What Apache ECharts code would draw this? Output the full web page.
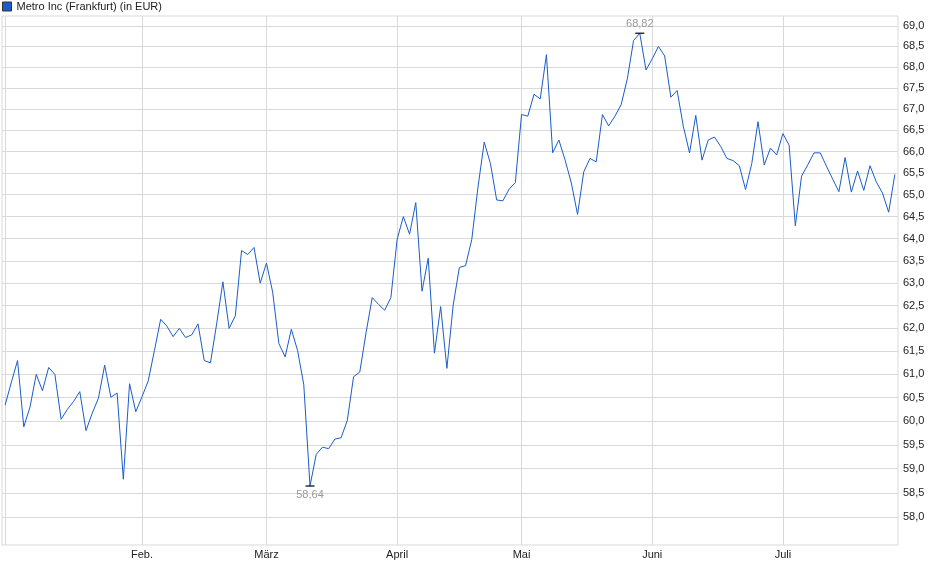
<!DOCTYPE html>
<html>
<head>
<meta charset="utf-8">
<script src="https://cdn.jsdelivr.net/npm/echarts@6/dist/echarts.min.js"></script>
<style>
  html, body { margin: 0; padding: 0; background: #fff; }
  #main { width: 940px; height: 579px; }
</style>
</head>
<body>
<div id="main"></div>
<script>
// daily closes, Jan 2 .. Jul 25 (trading days)
var closes = [
  60.34, 60.83, 61.30, 59.88, 60.30, 61.00, 60.65, 61.15, 61.00, 60.04,
  60.25, 60.42, 60.63, 59.80, 60.17, 60.49, 61.20, 60.51, 60.60, 58.78,
  60.80, 60.20, 60.52, 60.86, 61.52, 62.20, 62.05, 61.82, 62.00, 61.80,
  61.86, 62.10, 61.30, 61.25, 62.10, 63.03, 62.00, 62.28, 63.73, 63.64,
  63.80, 63.00, 63.45, 62.80, 61.67, 61.38, 61.98, 61.52, 60.78, 58.64,
  59.30, 59.45, 59.42, 59.62, 59.65, 60.02, 60.95, 61.05, 61.90, 62.68,
  62.53, 62.40, 62.68, 63.98, 64.50, 64.10, 64.82, 62.82, 63.56, 61.46,
  62.48, 61.13, 62.50, 63.35, 63.39, 63.98, 65.18, 66.22, 65.72, 64.88,
  64.86, 65.13, 65.28, 66.87, 66.83, 67.35, 67.24, 68.30, 65.97, 66.27,
  65.80, 65.27, 64.55, 65.53, 65.84, 65.76, 66.87, 66.60, 66.83, 67.10,
  67.72, 68.64, 68.82, 67.93, 68.20, 68.50, 68.27, 67.28, 67.44, 66.59,
  65.97, 66.85, 65.80, 66.27, 66.34, 66.12, 65.84, 65.79, 65.67, 65.12,
  65.72, 66.70, 65.69, 66.08, 65.92, 66.42, 66.15, 64.29, 65.43, 65.69,
  65.97, 65.97, 65.66, 65.36, 65.07, 65.86, 65.06, 65.55, 65.10, 65.67,
  65.30, 65.04, 64.60, 65.47
];
// index of first trading day of each month
var monthStart = [22, 42, 63, 83, 104, 125];
var monthLabels = ['Feb.', 'März', 'April', 'Mai', 'Juni', 'Juli'];
var yTicks = [58.0, 58.5, 59.0, 59.5, 60.0, 60.5, 61.0, 61.5, 62.0, 62.5, 63.0,
              63.5, 64.0, 64.5, 65.0, 65.5, 66.0, 66.5, 67.0, 67.5, 68.0, 68.5, 69.0];

var FONT = '"Liberation Sans", Arial, sans-serif';
var LINE = '#1a5cc8';
var GRIDC = '#d9d9d9';

function comma(v, d) { return v.toFixed(d).replace('.', ','); }

var myChart = echarts.init(document.getElementById('main'));
var option = {
    animation: false,
    textStyle: { fontFamily: FONT },
    legend: {
        left: 2, top: 1, padding: 0,
        icon: 'rect', itemWidth: 9, itemHeight: 9,
        itemStyle: { borderColor: '#333', borderWidth: 1 },
        textStyle: { fontSize: 11, color: '#222', fontFamily: FONT },
        data: ['Metro Inc (Frankfurt) (in EUR)']
    },
    grid: {
        left: 2, right: 42, top: 16, bottom: 34,
        show: true, borderColor: GRIDC, borderWidth: 1,
        outerBoundsMode: 'none'
    },
    xAxis: {
        type: 'value',
        min: -0.5, max: closes.length - 0.5,
        axisLine: { show: false },
        axisTick: { show: false, customValues: [0].concat(monthStart) },
        axisLabel: {
            customValues: monthStart,
            margin: 4,
            fontSize: 11, color: '#222', fontFamily: FONT,
            formatter: function (v) { return monthLabels[monthStart.indexOf(Math.round(v))] || ''; }
        },
        splitLine: { show: true, lineStyle: { color: GRIDC, width: 1 } }
    },
    yAxis: {
        type: 'log', logBase: 10,
        position: 'right',
        min: 57.43, max: 69.24,
        axisLine: { show: false },
        axisTick: { show: false, customValues: yTicks },
        axisLabel: {
            customValues: yTicks,
            margin: 5,
            fontSize: 11, color: '#222', fontFamily: FONT,
            formatter: function (v) { return comma(v, 1); }
        },
        splitLine: { show: true, lineStyle: { color: GRIDC, width: 1 } }
    },
    series: [{
        name: 'Metro Inc (Frankfurt) (in EUR)',
        type: 'line',
        data: closes.map(function (v, i) { return [i, v]; }),
        showSymbol: false,
        lineStyle: { color: LINE, width: 1 },
        itemStyle: { color: LINE },
        markPoint: {
            symbol: 'rect',
            symbolSize: [9, 1.2],
            itemStyle: { color: '#000' },
            label: {
                color: '#9a9a9a', fontSize: 11, fontFamily: FONT,
                formatter: function (p) { return comma(p.value, 2); }
            },
            data: [
                { type: 'max', label: { position: 'top', distance: 3 } },
                { type: 'min', label: { position: 'bottom', distance: 3 } }
            ]
        }
    }]
};
myChart.setOption(option);
</script>
</body>
</html>
